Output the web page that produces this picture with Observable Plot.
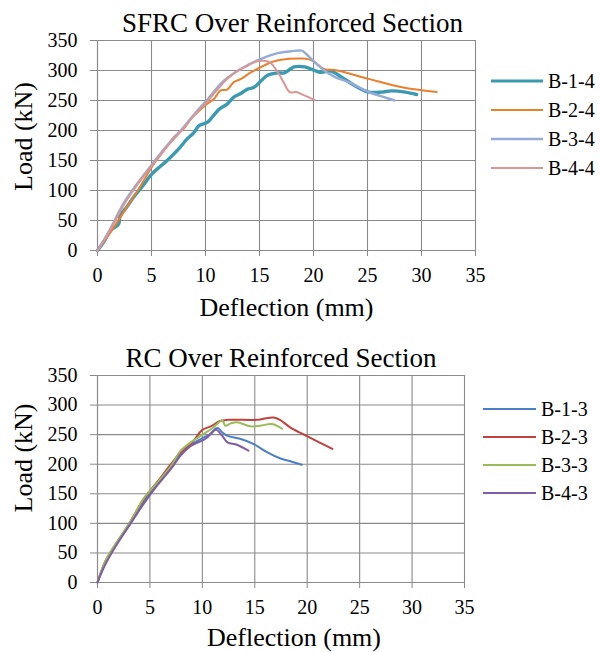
<!DOCTYPE html>
<html>
<head>
<meta charset="utf-8">
<script src="https://cdn.jsdelivr.net/npm/d3@7"></script>
<script src="https://cdn.jsdelivr.net/npm/@observablehq/plot@0.6"></script>
<style>
  html, body { margin: 0; padding: 0; background: #fff; }
  #wrap { position: relative; width: 600px; height: 652px; overflow: hidden; font-family: "Liberation Serif", serif; }
  .chart { position: absolute; left: 0; }
  .legend { position: absolute; font-family: "Liberation Serif", serif; font-size: 20px; color: #000; }
  .legend .row { display: flex; align-items: center; white-space: nowrap; }
  .legend svg { display: block; margin-right: 5px; }
</style>
</head>
<body>
<div id="wrap"></div>
<script>
// ---------- Data ----------
const xTicks = [0, 5, 10, 15, 20, 25, 30, 35];
const yTicks = [0, 50, 100, 150, 200, 250, 300, 350];

const titleTop = "SFRC Over Reinforced Section";
const titleBottom = "RC Over Reinforced Section";
const xLabel = "Deflection (mm)";
const yLabel = "Load (kN)";

const seriesTop = ["B-1-4", "B-2-4", "B-3-4", "B-4-4"];
const colorsTop = ["#3a9bb0", "#ea7f2e", "#95acd8", "#d99694"];
const widthsTop = [3.4, 2, 2.4, 2];

const seriesBottom = ["B-1-3", "B-2-3", "B-3-3", "B-4-3"];
const colorsBottom = ["#4a7fc6", "#c0413d", "#9bbb59", "#7e5ca6"];
const widthsBottom = [2, 2, 2, 2];

// SFRC series
const b14Defl = [0, 0.6, 1.2, 1.95, 2.1, 2.7, 3.35, 4.2, 5.06, 5.8, 6.45, 7.5, 8.3, 8.9, 9.4, 10.2, 10.7, 11.3, 12.0, 12.65, 13.3, 13.9, 14.5, 15.1, 15.75, 16.7, 17.3, 17.9, 18.2, 19.2, 20.1, 20.7, 21.6, 22.6, 23.8, 25.1, 26.3, 27.2, 28.5, 29.55];
const b14Load = [0, 15, 33, 44, 58, 72, 89, 108, 128, 140, 150, 169, 186, 196, 208, 214, 224, 236, 244, 256, 262, 269, 272, 282, 292, 296, 296, 303, 306, 306, 300, 297, 299, 289, 275, 264, 264, 266, 264, 260];

const b24Defl = [0, 1, 2, 3, 4, 5.06, 6, 7.07, 8.0, 8.6, 9.3, 10.1, 10.8, 11.4, 12.0, 12.65, 13.3, 14.2, 15.4, 16.1, 17.0, 18.9, 19.5, 20.1, 21.0, 22.0, 25.1, 28.2, 31.4];
const b24Load = [0, 25, 52, 80, 108, 140, 163, 189, 203, 219, 231, 244, 253, 267, 268, 281, 286, 297, 308, 314, 318, 320, 319, 314, 302, 301, 286, 272, 264];

const b34Defl = [0, 1, 2.4, 3.7, 5.06, 6.4, 7.7, 9.0, 10.1, 11.7, 13.3, 15.1, 16.7, 17.9, 18.9, 19.3, 20.1, 21.0, 22.0, 23.2, 25.1, 26.3, 27.5];
const b34Load = [0, 30, 78, 112, 144, 174, 200, 228, 250, 283, 303, 319, 329, 332, 333, 328, 314, 300, 289, 281, 264, 257, 250];

const b44Defl = [0, 1, 2.4, 3.7, 5.06, 6.4, 7.7, 9.0, 10.1, 12.0, 13.3, 13.7, 14.5, 15.9, 16.7, 17.3, 17.8, 18.4, 19.2, 20.1];
const b44Load = [0, 28, 75, 110, 142, 172, 198, 226, 247, 286, 303, 306, 314, 314, 297, 278, 264, 264, 258, 251];

// RC series
const b13Defl = [0, 0.79, 1.9, 3.17, 4.4, 5.7, 7.0, 7.9, 8.9, 10.1, 10.8, 11.25, 11.5, 11.9, 12.4, 13.6, 14.9, 16.2, 17.4, 18.4, 19.5];
const b13Load = [0, 37, 68, 102, 137, 166, 194, 218, 233, 245, 251, 260, 261, 254, 248, 243, 234, 220, 210, 205, 199];

const b23Defl = [0, 0.79, 1.9, 3.17, 4.4, 5.7, 7.0, 7.9, 8.9, 10.0, 10.8, 11.7, 12.4, 15.2, 15.85, 16.8, 17.4, 18.4, 19.7, 22.4];
const b23Load = [0, 37, 68, 104, 141, 170, 200, 220, 234, 258, 264, 273, 275, 275, 277, 279, 275, 262, 250, 226];

const b33Defl = [0, 0.79, 1.9, 3.17, 4.4, 5.7, 7.0, 7.9, 8.9, 10.1, 10.9, 11.9, 12.2, 12.7, 13.3, 14.6, 15.5, 16.65, 17.6];
const b33Load = [0, 38, 70, 104, 142, 169, 197, 222, 237, 251, 260, 274, 265, 269, 271, 264, 265, 268, 260];

const b43Defl = [0, 0.79, 1.9, 3.17, 4.4, 5.7, 7.0, 7.9, 8.9, 10.3, 11.1, 11.35, 11.9, 12.4, 13.3, 14.4];
const b43Load = [0, 32, 66, 100, 133, 164, 192, 214, 231, 243, 257, 258, 248, 237, 233, 223];

// ---------- Build tables ----------
const toRows = (xs, ys) => xs.map((d, i) => ({defl: d, load: ys[i]}));
const topData = [toRows(b14Defl, b14Load), toRows(b24Defl, b24Load), toRows(b34Defl, b34Load), toRows(b44Defl, b44Load)];
const bottomData = [toRows(b13Defl, b13Load), toRows(b23Defl, b23Load), toRows(b33Defl, b33Load), toRows(b43Defl, b43Load)];

const GRID = "#8a8a8a";
const FONT = "Liberation Serif";

function makeChart(opts) {
  const {data, colors, widths, title, height, marginTop, marginBottom, marginRight,
         titleDx, titleDy, yLabDy, xLabDx, xLabDy} = opts;
  const lines = data.map((rows, i) => Plot.line(rows, {
    x: "defl", y: "load", stroke: colors[i], strokeWidth: widths[i],
    curve: "catmull-rom", strokeLinejoin: "round", strokeLinecap: "round"
  }));
  return Plot.plot({
    width: 600,
    height,
    marginLeft: 97,
    marginRight,
    marginTop,
    marginBottom,
    style: {fontFamily: FONT, fontSize: "20px", color: "#000", background: "#fff", overflow: "visible"},
    x: {domain: [0, 35]},
    y: {domain: [0, 350]},
    marks: [
      Plot.gridX(xTicks, {stroke: GRID, strokeOpacity: 1, strokeWidth: 1.1}),
      Plot.gridY(yTicks, {stroke: GRID, strokeOpacity: 1, strokeWidth: 1.1}),
      Plot.axisX(xTicks, {tickSize: 6, tickPadding: 11, stroke: GRID, fill: "#000", fontSize: 20, label: null, tickFormat: d => String(d)}),
      Plot.axisY(yTicks, {tickSize: 7, tickPadding: 13, stroke: GRID, fill: "#000", fontSize: 20, label: null, tickFormat: d => String(d)}),
      Plot.ruleX([0], {stroke: GRID, strokeWidth: 1.1}),
      Plot.ruleY([0], {stroke: GRID, strokeWidth: 1.1}),
      ...lines,
      Plot.text([title], {frameAnchor: "top", textAnchor: "middle", dx: titleDx, dy: titleDy, fontSize: 27, fill: "#000", lineAnchor: "middle"}),
      Plot.text([yLabel], {frameAnchor: "left", textAnchor: "middle", rotate: -90, dx: -74, dy: yLabDy, fontSize: 26, fill: "#000", lineAnchor: "middle"}),
      Plot.text([xLabel], {frameAnchor: "bottom", textAnchor: "middle", dx: xLabDx, dy: xLabDy, fontSize: 26, fill: "#000", lineAnchor: "middle"})
    ]
  });
}

function makeLegend(names, colors, widths, left, top, rowH, lineW) {
  const div = document.createElement("div");
  div.className = "legend";
  div.style.left = left + "px";
  div.style.top = top + "px";
  names.forEach((n, i) => {
    const row = document.createElement("div");
    row.className = "row";
    row.style.height = rowH + "px";
    const s = d3.create("svg").attr("width", lineW).attr("height", 8);
    s.append("line").attr("x1", 0).attr("x2", lineW).attr("y1", 4).attr("y2", 4)
      .attr("stroke", colors[i]).attr("stroke-width", Math.min(widths[i], 3));
    row.appendChild(s.node());
    const t = document.createElement("span");
    t.textContent = n;
    row.appendChild(t);
    div.appendChild(row);
  });
  return div;
}

const wrap = document.getElementById("wrap");

const top1 = makeChart({
  data: topData, colors: colorsTop, widths: widthsTop, title: titleTop,
  height: 330, marginTop: 40, marginBottom: 80, marginRight: 125,
  titleDx: 6, titleDy: -17.5, yLabDy: -9, xLabDx: 0, xLabDy: 56.7
});
top1.classList.add("chart");
top1.style.top = "0px";
wrap.appendChild(top1);

const bot1 = makeChart({
  data: bottomData, colors: colorsBottom, widths: widthsBottom, title: titleBottom,
  height: 322, marginTop: 45, marginBottom: 70, marginRight: 136,
  titleDx: 0, titleDy: -17, yLabDy: -21, xLabDx: 13, xLabDy: 55
});
bot1.classList.add("chart");
bot1.style.top = "330px";
wrap.appendChild(bot1);

wrap.appendChild(makeLegend(seriesTop, colorsTop, widthsTop, 491, 66.5, 29, 52));
wrap.appendChild(makeLegend(seriesBottom, colorsBottom, widthsBottom, 483, 395, 28, 53));
</script>
</body>
</html>
